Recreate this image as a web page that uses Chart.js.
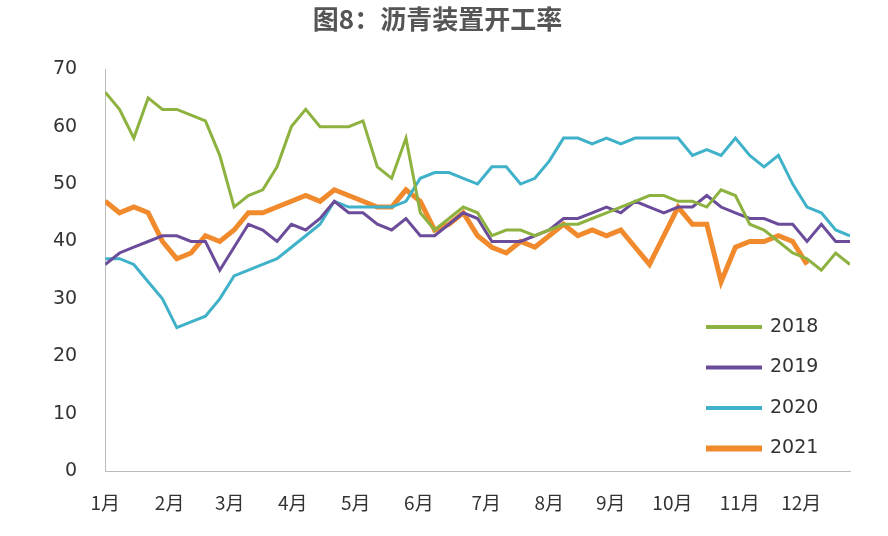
<!DOCTYPE html>
<html><head><meta charset="utf-8">
<script src="https://cdn.jsdelivr.net/npm/chart.js@4"></script>
<style>html,body{margin:0;background:#fff}#w{width:888px;height:536px}</style>
</head><body><div id="w"><canvas id="c"></canvas></div>
<script>
const monthLabels=['1月','2月','3月','4月','5月','6月','7月','8月','9月','10月','11月','12月'];
const monthWeeks=[0,4.5,8.7,13.1,17.5,21.9,26.6,31,35.3,39.6,44.3,48.6];
const y2018=[66,63,58,65,63,63,62,61,55,46,48,49,53,60,63,60,60,60,61,53,51,58,45,42,44,46,45,41,42,42,41,42,43,43,44,45,46,47,48,48,47,47,46,49,48,43,42,40,38,37,35,38,36];
const y2019=[36,38,39,40,41,41,40,40,35,39,43,42,40,43,42,44,47,45,45,43,42,44,41,41,43,45,44,40,40,40,41,42,44,44,45,46,45,47,46,45,46,46,48,46,45,44,44,43,43,40,43,40,40];
const y2020=[37,37,36,33,30,25,26,27,30,34,35,36,37,39,41,43,47,46,46,46,46,47,51,52,52,51,50,53,53,50,51,54,58,58,57,58,57,58,58,58,58,55,56,55,58,55,53,55,50,46,45,42,41];
const y2021=[47,45,46,45,40,37,38,41,40,42,45,45,46,47,48,47,49,48,47,46,46,49,47,42,43,45,41,39,38,40,39,41,43,41,42,41,42,39,36,41,46,43,43,33,39,40,40,41,40,36];
const pts=a=>a.map((v,i)=>({x:i,y:v}));
const series=[['2018',y2018,'#8db23f',3],['2019',y2019,'#6b4c9a',3],['2020',y2020,'#3fb1c9',3],['2021',y2021,'#f08a2c',5]];
const legendPlugin={id:'lg',afterDraw(ch){const c=ch.ctx;c.save();c.font='19px "DejaVu Sans"';c.textBaseline='middle';
 series.forEach((s,i)=>{const y=327+i*40.5;c.strokeStyle=s[2];c.lineWidth=s[3]+1;c.beginPath();c.moveTo(706,y);c.lineTo(762,y);c.stroke();c.fillStyle='#333';c.fillText(s[0],770,y);});c.restore();}};
new Chart(document.getElementById('c'),{type:'line',
data:{datasets:series.map(s=>({label:s[0],data:pts(s[1]),borderColor:s[2],borderWidth:s[3],pointRadius:0,tension:0}))},
options:{responsive:true,maintainAspectRatio:false,animation:false,
layout:{padding:{left:25,right:38,top:0,bottom:2}},
plugins:{legend:{display:false},tooltip:{enabled:false},
 title:{display:true,text:'图8：沥青装置开工率',font:{size:26,weight:'bold',family:'"Noto Sans CJK SC"'},color:'#555',padding:{top:4,bottom:34}}},
scales:{x:{type:'linear',min:0,max:52,grid:{display:false,drawTicks:false},border:{color:'#bbb'},
 afterBuildTicks(s){s.ticks=monthWeeks.map(v=>({value:v}));},
 ticks:{autoSkip:false,maxRotation:0,padding:20,color:'#333',font:{size:19,family:'"Noto Sans CJK SC"'},callback:(v)=>monthLabels[monthWeeks.indexOf(v)]}},
 y:{min:0,max:70,grid:{display:false,drawTicks:false},border:{color:'#bbb'},
 ticks:{stepSize:10,padding:28,color:'#333',font:{size:19,family:'"DejaVu Sans"'}}}}},
plugins:[legendPlugin]});
</script></body></html>
